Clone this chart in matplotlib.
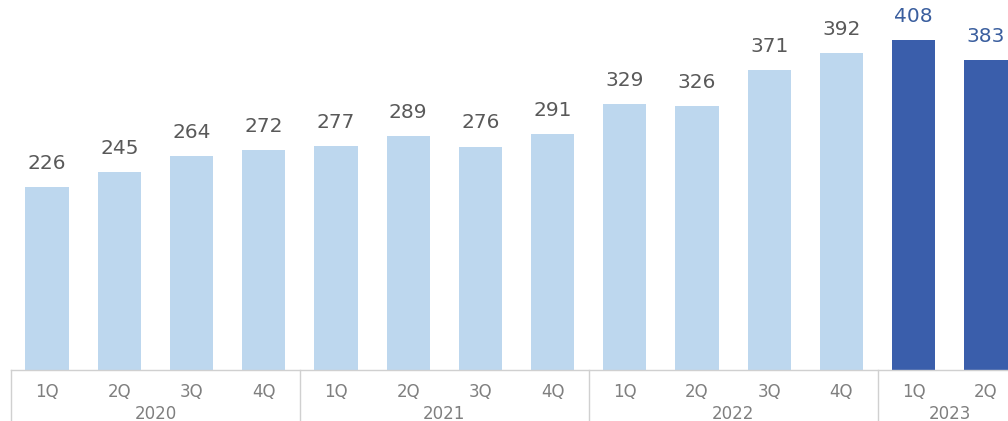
import matplotlib
matplotlib.use("Agg")
import matplotlib.pyplot as plt
from matplotlib.transforms import blended_transform_factory

quarters = ["1Q", "2Q", "3Q", "4Q", "1Q", "2Q", "3Q", "4Q", "1Q", "2Q", "3Q", "4Q", "1Q", "2Q"]
years = ["2020", "2021", "2022", "2023"]
year_sizes = [4, 4, 4, 2]
values = [226, 245, 264, 272, 277, 289, 276, 291, 329, 326, 371, 392, 408, 383]
highlight = [False] * 12 + [True] * 2

plt.rcParams['font.family'] = ['DejaVu Sans']

W, H = 1008, 421
fig = plt.figure(figsize=(W / 100, H / 100), dpi=100)
left_px, right_px, base_px = 11, 1022, 370
ax = fig.add_axes([left_px / W, (H - base_px) / H, (right_px - left_px) / W, base_px / H])

n = len(values)
xs = list(range(n))
light, dark = "#BDD7EE", "#3A5EAB"
colors = [dark if h else light for h in highlight]
ax.bar(xs, values, width=0.6, color=colors, zorder=2)
ax.set_xlim(-0.5, n - 0.5)
ax.set_ylim(0, 457)

for x, v, h in zip(xs, values, highlight):
    ax.annotate(str(v), (x, v), xytext=(0, 13), textcoords="offset points",
                ha="center", va="baseline", fontsize=14.5,
                color="#3A5E9E" if h else "#595959")

for s in ax.spines.values():
    s.set_visible(False)
ax.set_xticks([])
ax.set_yticks([])

trans = blended_transform_factory(ax.transData, ax.transAxes)
line_c = "#D0D0D0"
ax.plot([-0.5, n - 0.5], [0, 0], transform=trans, color=line_c, lw=1, clip_on=False)
low = -(H - base_px) / base_px
start = 0
bounds = [-0.5]
for ys in year_sizes:
    start += ys
    bounds.append(start - 0.5)
for b in bounds:
    ax.plot([b, b], [0, low], transform=trans, color=line_c, lw=1, clip_on=False)

for x, q in zip(xs, quarters):
    ax.text(x, -22 / base_px, q, transform=trans, ha="center", va="center",
            fontsize=12, color="#7F7F7F")
start = 0
for y, ys in zip(years, year_sizes):
    c = start + (ys - 1) / 2
    ax.text(c, -44 / base_px, y, transform=trans, ha="center", va="center",
            fontsize=12, color="#7F7F7F")
    start += ys

fig.savefig("out.png", dpi=100)
